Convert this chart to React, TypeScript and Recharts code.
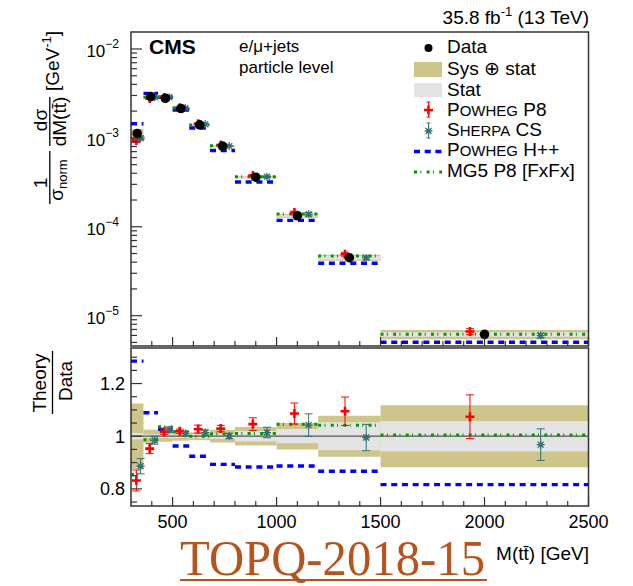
import React from 'react';
import { ComposedChart, XAxis, YAxis, Line, Scatter, ErrorBar, ReferenceArea, ReferenceLine } from 'recharts';

// ---------------- data ----------------
const binEdges = [300, 360, 430, 500, 580, 680, 800, 1000, 1200, 1500, 2500];
const dataValues = [1.12e-3, 2.91e-3, 2.79e-3, 2.14e-3, 1.40e-3, 8.07e-4, 3.61e-4, 1.33e-4, 4.49e-5, 6.17e-6];
const totalUnc = [0.124, 0.025, 0.021, 0.017, 0.015, 0.024, 0.035, 0.05, 0.078, 0.118];
const statUnc = [0.012, 0.007, 0.007, 0.007, 0.008, 0.01, 0.02, 0.027, 0.053, 0.058];
const powhegP8Ratio = [0.832, 0.953, 1.017, 1.019, 1.027, 1.029, 1.046, 1.086, 1.095, 1.074];
const powhegP8Err = [0.04, 0.019, 0.01, 0.008, 0.015, 0.012, 0.024, 0.04, 0.054, 0.083];
const sherpaRatio = [0.886, 0.985, 1.025, 1.01, 1.014, 1.001, 1.014, 1.042, 0.995, 0.968];
const sherpaErr = [0.029, 0.015, 0.01, 0.008, 0.01, 0.01, 0.02, 0.043, 0.05, 0.06];
const powhegHppRatio = [1.285, 1.089, 1.026, 0.963, 0.924, 0.893, 0.883, 0.887, 0.867, 0.816];
const mg5Ratio = [0.855, 0.987, 1.036, 1.017, 1.0, 1.008, 1.01, 1.045, 1.042, 1.005];

const xMajorTicks = [500, 1000, 1500, 2000, 2500];
const xMinorTicks = [400, 600, 700, 800, 900, 1100, 1200, 1300, 1400, 1600, 1700, 1800, 1900, 2100, 2200, 2300, 2400];
const ratioMajorTicks = [0.8, 1, 1.2];
const ratioMinorTicks = [0.75, 0.85, 0.9, 0.95, 1.05, 1.1, 1.15, 1.25, 1.3];

// ---------------- style ----------------
const FONT = '"Liberation Sans", Arial, Helvetica, sans-serif';
const AX = '#333';
const OLIVE = '#cec58a';
const STATGRAY = '#e3e3e3';
const RED = '#ff0000';
const TEAL = '#357070';
const BLUE = '#0000ff';
const GREEN = '#009900';
const TOP_DOMAIN: [number, number] = [4.56e-6, 0.01552];
const RATIO_DOMAIN: [number, number] = [0.735, 1.335];

const bins = dataValues.map((v, i) => ({
  lo: binEdges[i],
  hi: binEdges[i + 1],
  c: (binEdges[i] + binEdges[i + 1]) / 2,
  w: binEdges[i + 1] - binEdges[i],
  v,
}));

function stepSeries(vals: number[]) {
  const out: { x: number; y: number | null }[] = [];
  vals.forEach((v, i) => {
    out.push({ x: binEdges[i], y: v }, { x: binEdges[i + 1], y: v }, { x: binEdges[i + 1], y: null });
  });
  return out;
}

const xTicksAll = [...xMinorTicks, ...xMajorTicks].sort((a, b) => a - b);
const topYTicks: number[] = [];
[1e-6, 1e-5, 1e-4, 1e-3, 1e-2].forEach((d) => {
  for (let m = 1; m <= 9; m++) {
    const v = m * d;
    if (v >= TOP_DOMAIN[0] && v <= TOP_DOMAIN[1]) topYTicks.push(v);
  }
});
const ratioTicksAll = [...ratioMinorTicks, ...ratioMajorTicks].sort((a, b) => a - b);

// top-panel series
const topMg5 = stepSeries(dataValues.map((v, i) => v * mg5Ratio[i]));
const topHpp = stepSeries(dataValues.map((v, i) => v * powhegHppRatio[i]));
const topRed = bins.map((b, i) => ({ x: b.c - 0.07 * b.w, y: b.v * powhegP8Ratio[i], err: b.v * powhegP8Err[i] }));
const topSherpa = bins.map((b, i) => ({ x: b.c + 0.27 * b.w, y: b.v * sherpaRatio[i], err: b.v * sherpaErr[i] }));
const topData = bins.map((b) => ({ x: b.c, y: b.v }));

// ratio-panel series
const ratioMg5 = stepSeries(mg5Ratio);
const ratioHpp = stepSeries(powhegHppRatio);
const ratioRed = bins.map((b, i) => ({ x: b.c - 0.07 * b.w, y: powhegP8Ratio[i], err: powhegP8Err[i] }));
const ratioSherpa = bins.map((b, i) => ({ x: b.c + 0.27 * b.w, y: sherpaRatio[i], err: sherpaErr[i] }));

// ---------------- markers ----------------
const RedPlus = ({ cx, cy }: { cx: number; cy: number }) => (
  <path
    d={`M${cx - 4.5},${cy - 1.3}h3.2v-3.2h2.6v3.2h3.2v2.6h-3.2v3.2h-2.6v-3.2h-3.2z`}
    fill={RED}
  />
);
const SherpaStar = ({ cx, cy }: { cx: number; cy: number }) => {
  const r = 4;
  const d = r * 0.75;
  return (
    <g stroke={TEAL} strokeWidth={1.3}>
      <line x1={cx - r} x2={cx + r} y1={cy} y2={cy} />
      <line x1={cx} x2={cx} y1={cy - r} y2={cy + r} />
      <line x1={cx - d} x2={cx + d} y1={cy - d} y2={cy + d} />
      <line x1={cx - d} x2={cx + d} y1={cy + d} y2={cy - d} />
      <circle cx={cx} cy={cy} r={1.6} fill={TEAL} />
    </g>
  );
};
const DataDot = ({ cx, cy }: { cx: number; cy: number }) => <circle cx={cx} cy={cy} r={4.8} fill="#000" />;

// ---------------- ticks ----------------
const XTickTop = (props: any) => {
  const { x, y, payload } = props;
  const major = xMajorTicks.includes(payload.value);
  return <line x1={x} x2={x} y1={y} y2={y - (major ? 9 : 5)} stroke={AX} strokeWidth={1.2} />;
};
const XTickBottom = (props: any) => {
  const { x, y, payload } = props;
  const major = xMajorTicks.includes(payload.value);
  return (
    <g>
      <line x1={x} x2={x} y1={y} y2={y - (major ? 9 : 5)} stroke={AX} strokeWidth={1.2} />
      {major && (
        <text x={x} y={y + 22} textAnchor="middle" fontSize={18} fontFamily={FONT} fill="#000">
          {payload.value}
        </text>
      )}
    </g>
  );
};
const TopYTick = (props: any) => {
  const { x, y, payload } = props;
  const v = payload.value;
  const e = Math.round(Math.log10(v));
  const major = Math.abs(v / Math.pow(10, e) - 1) < 1e-6;
  return (
    <g>
      <line x1={x} x2={x + (major ? 11 : 6)} y1={y} y2={y} stroke={AX} strokeWidth={1.2} />
      {major && (
        <text x={x - 12} y={y + 8.5} textAnchor="end" fontSize={17} fontFamily={FONT} fill="#000">
          10
          <tspan fontSize={12} dy={-9.5}>{`\u2212${-e}`}</tspan>
        </text>
      )}
    </g>
  );
};
const RatioYTick = (props: any) => {
  const { x, y, payload } = props;
  const v = payload.value;
  const major = ratioMajorTicks.some((m) => Math.abs(m - v) < 1e-6);
  return (
    <g>
      <line x1={x} x2={x + (major ? 11 : 6)} y1={y} y2={y} stroke={AX} strokeWidth={1.2} />
      {major && (
        <text x={x - 6} y={y + 6.5} textAnchor="end" fontSize={18} fontFamily={FONT} fill="#000">
          {Math.abs(v - 1) < 1e-6 ? '1' : v.toFixed(1)}
        </text>
      )}
    </g>
  );
};

const W = 633;
const H = 586;
const LEFT = 130; // + 1px y-axis width => plot starts at 131
const RIGHT = 44.5;

function TopPanel() {
  return (
    <ComposedChart
      width={W}
      height={H}
      margin={{ left: LEFT, right: RIGHT, top: 32, bottom: H - 346 - 1 }}
      style={{ position: 'absolute', left: 0, top: 0 }}
    >
      <XAxis
        type="number"
        dataKey="x"
        domain={[300, 2500]}
        allowDataOverflow
        ticks={xTicksAll}
        interval={0}
        height={1}
        tickSize={0}
        tickMargin={0}
        tickLine={false}
        axisLine={false}
        tick={(p: any) => <XTickTop {...p} />}
      />
      <YAxis
        type="number"
        dataKey="y"
        scale="log"
        domain={TOP_DOMAIN}
        allowDataOverflow
        ticks={topYTicks}
        interval={0}
        width={1}
        tickSize={0}
        tickMargin={0}
        tickLine={false}
        axisLine={false}
        tick={(p: any) => <TopYTick {...p} />}
      />
      {bins.map((b, i) => (
        <ReferenceArea
          key={`tt${i}`}
          x1={b.lo}
          x2={b.hi}
          y1={b.v * (1 - totalUnc[i])}
          y2={b.v * (1 + totalUnc[i])}
          fill={OLIVE}
          fillOpacity={1}
          stroke="none"
        />
      ))}
      {bins.map((b, i) => (
        <ReferenceArea
          key={`ts${i}`}
          x1={b.lo}
          x2={b.hi}
          y1={b.v * (1 - statUnc[i])}
          y2={b.v * (1 + statUnc[i])}
          fill={STATGRAY}
          fillOpacity={1}
          stroke="none"
        />
      ))}
      <Line data={topHpp} dataKey="y" stroke={BLUE} strokeWidth={3.4} strokeDasharray="6 4.7" dot={false} isAnimationActive={false} connectNulls={false} />
      <Line data={topMg5} dataKey="y" stroke={GREEN} strokeWidth={3} strokeDasharray="3 3.3 1 5.3" dot={false} isAnimationActive={false} connectNulls={false} />
      <Scatter data={topRed} dataKey="y" isAnimationActive={false} shape={(p: any) => <RedPlus cx={p.cx} cy={p.cy} />}>
        <ErrorBar dataKey="err" direction="y" stroke={RED} strokeWidth={1} width={4} />
      </Scatter>
      <Scatter data={topSherpa} dataKey="y" isAnimationActive={false} shape={(p: any) => <SherpaStar cx={p.cx} cy={p.cy} />}>
        <ErrorBar dataKey="err" direction="y" stroke={TEAL} strokeWidth={1} width={4} />
      </Scatter>
      <Scatter data={topData} dataKey="y" isAnimationActive={false} shape={(p: any) => <DataDot cx={p.cx} cy={p.cy} />} />
      <ReferenceArea x1={300} x2={2500} y1={TOP_DOMAIN[0]} y2={TOP_DOMAIN[1]} fill="none" stroke={AX} strokeWidth={1.5} ifOverflow="visible" />
    </ComposedChart>
  );
}

function RatioPanel() {
  return (
    <ComposedChart
      width={W}
      height={H}
      margin={{ left: LEFT, right: RIGHT, top: 348, bottom: H - 506 - 1 }}
      style={{ position: 'absolute', left: 0, top: 0 }}
    >
      <XAxis
        type="number"
        dataKey="x"
        domain={[300, 2500]}
        allowDataOverflow
        ticks={xTicksAll}
        interval={0}
        height={1}
        tickSize={0}
        tickMargin={0}
        tickLine={false}
        axisLine={false}
        tick={(p: any) => <XTickBottom {...p} />}
      />
      <YAxis
        type="number"
        dataKey="y"
        domain={RATIO_DOMAIN}
        allowDataOverflow
        ticks={ratioTicksAll}
        interval={0}
        width={1}
        tickSize={0}
        tickMargin={0}
        tickLine={false}
        axisLine={false}
        tick={(p: any) => <RatioYTick {...p} />}
      />
      {bins.map((b, i) => (
        <ReferenceArea key={`rt${i}`} x1={b.lo} x2={b.hi} y1={1 - totalUnc[i]} y2={1 + totalUnc[i]} fill={OLIVE} fillOpacity={1} stroke="none" />
      ))}
      {bins.map((b, i) => (
        <ReferenceArea key={`rs${i}`} x1={b.lo} x2={b.hi} y1={1 - statUnc[i]} y2={1 + statUnc[i]} fill={STATGRAY} fillOpacity={1} stroke="none" />
      ))}
      <ReferenceLine y={1} stroke="#555" strokeWidth={1.2} />
      <Line data={ratioHpp} dataKey="y" stroke={BLUE} strokeWidth={3.4} strokeDasharray="6 4.7" dot={false} isAnimationActive={false} connectNulls={false} />
      <Line data={ratioMg5} dataKey="y" stroke={GREEN} strokeWidth={3} strokeDasharray="3 3.3 1 5.3" dot={false} isAnimationActive={false} connectNulls={false} />
      <Scatter data={ratioRed} dataKey="y" isAnimationActive={false} shape={(p: any) => <RedPlus cx={p.cx} cy={p.cy} />}>
        <ErrorBar dataKey="err" direction="y" stroke={RED} strokeWidth={1} width={4} />
      </Scatter>
      <Scatter data={ratioSherpa} dataKey="y" isAnimationActive={false} shape={(p: any) => <SherpaStar cx={p.cx} cy={p.cy} />}>
        <ErrorBar dataKey="err" direction="y" stroke={TEAL} strokeWidth={1} width={4} />
      </Scatter>
      <ReferenceArea x1={300} x2={2500} y1={RATIO_DOMAIN[0]} y2={RATIO_DOMAIN[1]} fill="none" stroke={AX} strokeWidth={1.5} ifOverflow="visible" />
    </ComposedChart>
  );
}

function Overlay() {
  const legendX = 447;
  return (
    <svg width={W} height={H} style={{ position: 'absolute', left: 0, top: 0, pointerEvents: 'none' }} fontFamily={FONT}>
      {/* header */}
      <text x={589} y={24} textAnchor="end" fontSize={19} fill="#000">
        35.8 fb<tspan fontSize={13} dy={-8}>-1</tspan>
        <tspan dy={8}> (13 TeV)</tspan>
      </text>
      <text x={149} y={54} fontSize={21} fontWeight="bold" fill="#000">CMS</text>
      <text x={239} y={52} fontSize={17} fill="#000">e/μ+jets</text>
      <text x={239} y={72.5} fontSize={17} fill="#000">particle level</text>

      {/* legend */}
      <circle cx={428.5} cy={48} r={4} fill="#000" />
      <text x={legendX} y={53} fontSize={19} fill="#000">Data</text>
      <rect x={414} y={62} width={28} height={15} fill={OLIVE} />
      <text x={legendX} y={75} fontSize={19} fill="#000">Sys ⊕ stat</text>
      <rect x={414} y={83} width={28} height={14} fill={STATGRAY} />
      <text x={legendX} y={95.5} fontSize={19} fill="#000">Stat</text>
      <line x1={428.5} x2={428.5} y1={102} y2={117} stroke={RED} strokeWidth={1} />
      <line x1={426.5} x2={430.5} y1={102} y2={102} stroke={RED} strokeWidth={1} />
      <line x1={426.5} x2={430.5} y1={117} y2={117} stroke={RED} strokeWidth={1} />
      <RedPlus cx={428.5} cy={110} />
      <text x={legendX} y={115.5} fontSize={19} fill="#000">
        P<tspan fontSize={15}>OWHEG</tspan> P8
      </text>
      <line x1={428.5} x2={428.5} y1={123} y2={138} stroke={TEAL} strokeWidth={1} />
      <line x1={426.5} x2={430.5} y1={123} y2={123} stroke={TEAL} strokeWidth={1} />
      <line x1={426.5} x2={430.5} y1={138} y2={138} stroke={TEAL} strokeWidth={1} />
      <SherpaStar cx={428.5} cy={131} />
      <text x={legendX} y={135.5} fontSize={19} fill="#000">
        S<tspan fontSize={15}>HERPA</tspan> CS
      </text>
      <line x1={414} x2={442} y1={151.5} y2={151.5} stroke={BLUE} strokeWidth={3.4} strokeDasharray="6 4.7" />
      <text x={legendX} y={156} fontSize={19} fill="#000">
        P<tspan fontSize={15}>OWHEG</tspan> H++
      </text>
      <line x1={414} x2={442} y1={172} y2={172} stroke={GREEN} strokeWidth={3} strokeDasharray="3 3.3 1 5.3" />
      <text x={legendX} y={176.5} fontSize={19} fill="#000">MG5 P8 [FxFx]</text>

      {/* top y title */}
      <g transform="rotate(-90)" fontSize={19} fill="#000">
        <text x={-183} y={46.5} textAnchor="middle">1</text>
        <line x1={-204} x2={-151} y1={49.8} y2={49.8} stroke="#000" strokeWidth={1.3} />
        <text x={-180} y={63} textAnchor="middle">
          σ<tspan fontSize={13} dy={4}>norm</tspan>
        </text>
        <text x={-120} y={46.5} textAnchor="middle">dσ</text>
        <line x1={-146} x2={-97} y1={49.8} y2={49.8} stroke="#000" strokeWidth={1.3} />
        <text x={-121.5} y={66} textAnchor="middle">dM(tt̄)</text>
        <text x={-61} y={59} textAnchor="middle">
          [GeV<tspan fontSize={13} dy={-8}>-1</tspan>
          <tspan dy={8}>]</tspan>
        </text>
      </g>

      {/* ratio y title */}
      <g transform="rotate(-90)" fontSize={19} fill="#000">
        <text x={-383} y={45.5} textAnchor="middle">Theory</text>
        <line x1={-414} x2={-351} y1={52.5} y2={52.5} stroke="#000" strokeWidth={1.3} />
        <text x={-381} y={72} textAnchor="middle">Data</text>
      </g>

      {/* x title */}
      <text x={589} y={560} textAnchor="end" fontSize={19} fill="#000">M(tt̄) [GeV]</text>

      {/* slide label */}
      <text
        x={180}
        y={575}
        fontFamily='"Liberation Serif", "DejaVu Serif", serif'
        fontSize={50}
        fill="#b5541d"
        textLength={305}
        lengthAdjust="spacingAndGlyphs"
      >
        TOPQ-2018-15
      </text>
      <line x1={180} x2={487} y1={580} y2={580} stroke="#b5541d" strokeWidth={2} />
    </svg>
  );
}

export default function App() {
  return (
    <div style={{ position: 'absolute', left: 0, top: 0, width: W, height: H, background: '#fff' }}>
      <TopPanel />
      <RatioPanel />
      <Overlay />
    </div>
  );
}
